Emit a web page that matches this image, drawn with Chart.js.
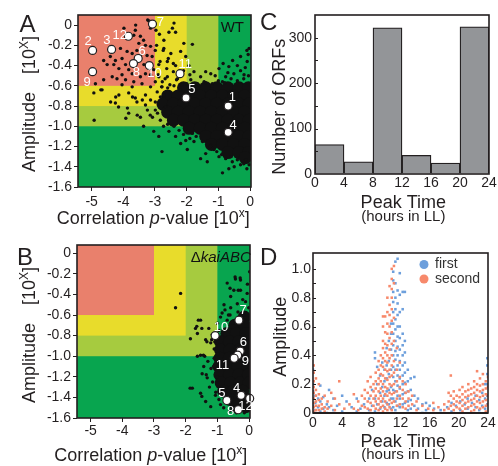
<!DOCTYPE html>
<html>
<head>
<meta charset="utf-8">
<script src="https://cdn.jsdelivr.net/npm/chart.js@4.4.1/dist/chart.umd.min.js"></script>
<style>
  html, body { margin: 0; padding: 0; background: #fff; }
  #fig { position: relative; width: 498px; height: 466px; overflow: hidden; }
  #fig canvas { position: absolute; left: 0; top: 0; width: 498px; height: 466px; }
</style>
</head>
<body>
<div id="fig">
  <canvas id="panelA" width="498" height="466"></canvas>
  <canvas id="panelB" width="498" height="466"></canvas>
  <canvas id="panelC" width="498" height="466"></canvas>
  <canvas id="panelD" width="498" height="466"></canvas>
</div>
<script>
// ---- data ----
const pTicks = [-5, -4, -3, -2, -1, 0];
const ampTicks = [0, -0.2, -0.4, -0.6, -0.8, -1.0, -1.2, -1.4, -1.6];
// colour zones: p-value below pCut and amplitude above ampCut
const zonePCut = [-1, -2, -3];
const zoneAmpCut = [-1.0, -0.8, -0.6];

const wtGenes = [
  [-3.23,0.05],[-3.14,-0.03],[-2.97,-0.05],[-3.62,-0.05],[-3.67,-0.10],[-3.46,-0.11],[-3.36,-0.15],[-3.51,-0.18],
  [-3.30,-0.20],[-3.14,-0.21],[-2.99,-0.25],[-3.57,-0.25],[-3.72,-0.28],[-3.46,-0.30],[-3.25,-0.30],[-3.09,-0.31],
  [-3.88,-0.26],[-4.09,-0.23],[-4.04,-0.33],[-4.25,-0.35],[-4.41,-0.31],[-4.62,-0.35],[-4.51,-0.39],[-4.30,-0.39],
  [-4.14,-0.43],[-3.93,-0.39],[-3.83,-0.44],[-3.72,-0.48],[-4.04,-0.49],[-4.20,-0.53],[-4.35,-0.51],[-3.93,-0.54],
  [-3.67,-0.56],[-3.46,-0.51],[-3.30,-0.48],[-3.14,-0.49],[-3.04,-0.44],[-2.88,-0.39],[-3.35,-0.39],[-3.41,-0.58],
  [-3.14,-0.61],[-2.99,-0.56],[-2.88,-0.51],[-4.62,-0.54],[-4.88,-0.58],[-4.67,-0.64],[-4.04,-0.59],[-3.72,-0.61],
  [-4.93,-0.67],[-4.14,-0.69],[-3.83,-0.67],[-3.62,-0.72],[-3.30,-0.69],[-3.14,-0.74],[-2.93,-0.66],[-2.83,-0.71],
  [-2.78,-0.61],[-2.72,-0.69],[-2.99,-0.76],
  [-3.98,-0.03],[-3.61,0.00],[-3.19,0.04],[-2.40,0.02],[-2.56,-0.07],[-2.72,-0.15],[-2.09,-0.18],
  [-2.45,-0.03],[-2.35,-0.07],[-1.82,-0.19],[-2.72,-0.23],[-2.50,-0.28],[-2.19,-0.26],[-2.03,-0.31],[-2.61,-0.36],
  [-2.35,-0.40],[-1.93,-0.40],[-1.77,-0.46],[-1.56,-0.51],[-1.24,-0.48],[-0.98,-0.43],[-0.67,-0.41],[-0.40,-0.40],
  [-0.30,-0.31],[-0.03,-0.23],[-0.09,-0.36],[-0.51,-0.48],[-0.19,-0.49],[-0.77,-0.51],[-0.87,-0.56],[-1.19,-0.58],
  [-1.45,-0.56],[-1.66,-0.58],[-1.87,-0.54],[-2.29,-0.53],[-2.61,-0.51],[-2.77,-0.56],[-0.10,-0.25],[-0.06,-0.29],
  [-2.86,-0.09],[-2.95,-0.20],[-2.74,-0.25],[-2.58,-0.33],[-2.42,-0.38],[-2.84,-0.36],[-2.63,-0.43],[-2.42,-0.46],
  [-2.90,-0.49],[-2.68,-0.53],[-2.32,-0.54],[-2.53,-0.59],[-2.79,-0.61],[-2.16,-0.59],
  [-4.92,-0.94],[-4.24,-0.71],[-4.40,-0.76],[-3.87,-0.82],[-3.71,-0.71],[-3.40,-0.74],[-3.24,-0.84],[-3.08,-0.91],
  [-2.92,-0.87],[-3.56,-0.89],[-3.92,-0.92],[-4.71,-0.64],[-4.25,-0.77],[-4.15,-0.81],[-3.83,-0.87],[-3.57,-0.76],
  [-3.46,-0.91],[-3.30,-0.79],[-3.15,-0.89],[-3.36,-1.00],[-3.04,-1.05],[-2.88,-1.10],[-2.78,-1.25],[-2.99,-0.84],
  [-2.83,-0.94],[-2.73,-1.00],[-2.67,-0.81],
  [-2.56,-1.05],[-2.35,-1.10],[-2.19,-1.17],[-1.98,-1.23],[-2.03,-1.14],[-1.77,-1.15],[-1.56,-1.32],[-1.35,-1.35],
  [-1.40,-1.27],[-1.14,-1.23],[-1.24,-1.19],[-0.87,-1.46],[-0.67,-1.42],[-0.56,-1.35],[-0.30,-1.38],[-0.14,-1.33],
  [-0.03,-1.38],[-0.98,-1.30],[-0.77,-1.32],[-2.24,-1.04],[-1.82,-1.07],
  [-2.60,-0.62],[-2.40,-0.60],[-2.20,-0.64],[-2.00,-0.58],[-1.80,-0.62],[-1.60,-0.60],[-1.40,-0.57],[-1.20,-0.60],
  [-1.00,-0.55],[-0.80,-0.57],[-0.60,-0.53],[-0.40,-0.55],[-0.20,-0.53],[-0.05,-0.50],[-0.30,-0.45],[-0.70,-0.47],
  [-1.10,-0.50],[-1.40,-0.46],[-1.90,-0.49],[-2.10,-0.45],[-0.15,-0.42],[-0.55,-0.35],[-0.85,-0.38],
  [-2.40,-1.00],[-2.10,-1.08],[-1.70,-1.10],[-1.50,-1.15],[-1.25,-1.20],[-1.05,-1.25],[-0.90,-1.28],[-0.60,-1.30],
  [-0.40,-1.33],[-0.20,-1.37],[-0.50,-1.40],[-0.10,-1.42],[-1.90,-1.12],[-2.60,-0.98]
];
// the solid black core of the WT cloud
const wtDense = [
  [-2.10,-0.62],[-1.75,-0.62],[-1.40,-0.62],[-1.05,-0.62],[-0.70,-0.62],[-0.35,-0.62],[-0.05,-0.62],
  [-2.60,-0.70],[-2.27,-0.70],[-1.92,-0.70],[-1.57,-0.70],[-1.22,-0.70],[-0.87,-0.70],[-0.52,-0.70],[-0.17,-0.70],
  [-2.75,-0.78],[-2.42,-0.78],[-2.10,-0.78],[-1.75,-0.78],[-1.40,-0.78],[-1.05,-0.78],[-0.70,-0.78],[-0.35,-0.78],[-0.03,-0.78],
  [-2.60,-0.86],[-2.27,-0.86],[-1.92,-0.86],[-1.57,-0.86],[-1.22,-0.86],[-0.87,-0.86],[-0.52,-0.86],[-0.17,-0.86],
  [-2.42,-0.94],[-2.10,-0.94],[-1.75,-0.94],[-1.40,-0.94],[-1.05,-0.94],[-0.70,-0.94],[-0.35,-0.94],[-0.03,-0.94],
  [-1.92,-1.02],[-1.57,-1.02],[-1.22,-1.02],[-0.87,-1.02],[-0.52,-1.02],[-0.17,-1.02],
  [-1.40,-1.10],[-1.05,-1.10],[-0.70,-1.10],[-0.35,-1.10],[-0.03,-1.10],
  [-1.22,-1.18],[-0.87,-1.18],[-0.52,-1.18],[-0.17,-1.18],
  [-0.70,-1.26],[-0.35,-1.26],[-0.05,-1.26],[-0.15,-1.31]
];
const wtMarkerIds = ['7', '12', '2', '3', '6', '8', '10', '9', '11', '5', '1', '4'];
const wtMarkers = [
  [-3.08,0.01],[-3.84,-0.11],[-4.97,-0.25],[-4.37,-0.24],[-3.53,-0.33],[-3.68,-0.38],
  [-3.18,-0.40],[-4.97,-0.46],[-2.21,-0.48],[-2.02,-0.72],[-0.69,-0.80],[-0.69,-1.06]
];

const kaiGenes = [
  [-2.16,-0.39],[-2.32,-0.53],[-1.85,-0.83],[-1.69,-0.73],[-1.53,-0.65],[-1.63,-0.78],[-1.27,-0.73],[-1.16,-0.79],
  [-1.37,-0.84],[-1.21,-0.87],[-1.53,-0.99],[-1.63,-1.00],[-1.43,-1.10],[-1.48,-1.17],[-1.32,-1.21],[-1.79,-1.31],
  [-1.53,-1.36],[-1.37,-1.44],[-1.21,-1.49],[-1.06,-1.38],[-0.90,-1.47],
  [-0.69,-0.29],[-0.43,-0.25],[-0.27,-0.26],[-0.48,-0.36],[-0.27,-0.36],[-0.06,-0.39],[-0.58,-0.42],[-0.79,-0.50],
  [-0.58,-0.53],[-0.37,-0.49],[-0.11,-0.47],[-0.01,-0.53],[-0.90,-0.62],[-0.69,-0.65],
  [-1.30,-1.05],[-1.20,-1.12],[-1.35,-1.18],[-1.15,-1.25],[-1.25,-1.30],[-1.10,-1.02],[-1.05,-1.35],[-1.40,-1.00],
  [-1.10,-0.93],[-1.00,-0.68],[-0.85,-0.58],[-0.60,-0.60],[-0.35,-0.57],[-0.15,-0.60],[-0.05,-0.30],[-0.20,-0.45],
  [-0.50,-0.68],[-0.95,-1.42],[-0.80,-1.50],[-0.60,-1.53],[-0.40,-1.55],[-0.15,-1.55],[-1.00,-1.20],[-1.12,-1.10],
  [-0.98,-0.98],[-1.08,-0.86],[-0.95,-0.75],[-0.44,-0.23],[-0.28,-0.24],[-0.60,-0.34],[-0.34,-0.36],[0.02,-0.18],
  [-0.76,-0.55],[-0.65,-0.60],[-1.60,-0.65],[-1.65,-0.71],[-1.49,-0.73],[-1.18,-0.84],[-1.33,-0.86],[-1.44,-0.99],
  [-1.86,-1.31],[-1.49,-1.39]
];
const kaiDense = [
  [-0.15,-0.62],
  [-0.45,-0.70],[-0.15,-0.70],
  [-0.70,-0.78],[-0.40,-0.78],[-0.10,-0.78],
  [-0.90,-0.86],[-0.62,-0.86],[-0.32,-0.86],[-0.02,-0.86],
  [-0.90,-0.94],[-0.60,-0.94],[-0.30,-0.94],[0.00,-0.94],
  [-0.92,-1.02],[-0.62,-1.02],[-0.32,-1.02],[-0.02,-1.02],
  [-0.95,-1.10],[-0.65,-1.10],[-0.35,-1.10],[-0.05,-1.10],
  [-0.92,-1.18],[-0.62,-1.18],[-0.32,-1.18],[-0.02,-1.18],
  [-0.88,-1.26],[-0.58,-1.26],[-0.28,-1.26],[0.00,-1.26],
  [-0.80,-1.34],[-0.50,-1.34],[-0.20,-1.34],
  [-0.60,-1.42],[-0.30,-1.42],[0.00,-1.42],
  [-0.40,-1.49],[-0.10,-1.49]
];
const kaiMarkerIds = ['7', '10', '6', '9', '11', '4', '12', '5', '8'];
const kaiMarkers = [
  [-0.32,-0.65],[-1.07,-0.80],[-0.28,-0.95],[-0.36,-0.99],[-0.47,-1.02],
  [-0.25,-1.38],[0.02,-1.41],[-0.70,-1.43],[-0.34,-1.52]
];

const peakTicks = [0, 4, 8, 12, 16, 20, 24];
const binCentres = [2, 6, 10, 14, 18, 22];
const orfCounts = [65, 27, 322, 41, 24, 324];
const countTicks = [0, 100, 200, 300];
const countMinorTicks = [50, 100, 150, 200, 250, 300];

const ampDTicks = [0, 0.2, 0.4, 0.6, 0.8, 1.0];
const ampDMinorTicks = [0.1, 0.2, 0.3, 0.4, 0.5, 0.6, 0.7, 0.8, 0.9, 1.0];
// [peak time, amplitudes in that column]
const secondCols = [
  [0.1,[0.33,0.28,0.22,0.18,0.14,0.10,0.07,0.04,0.01]],[0.4,[0.24,0.16,0.12,0.08,0.05,0.02]],
  [0.8,[0.20,0.13,0.09,0.05,0.02]],[1.2,[0.10,0.06,0.03]],[1.6,[0.12,0.04,0.01]],[2.0,[0.08,0.03]],
  [2.5,[0.14,0.05]],[3.0,[0.10,0.02]],[3.6,[0.22,0.06]],[4.3,[0.03]],[5.0,[0.06]],[5.6,[0.13,0.03]],
  [6.2,[0.08,0.02]],[6.7,[0.12,0.05]],[7.1,[0.16,0.10,0.04]],[7.5,[0.22,0.14,0.08,0.03]],
  [7.9,[0.25,0.18,0.12,0.07,0.02]],[8.3,[0.20,0.15,0.10,0.05]],[8.6,[0.28,0.22,0.17,0.12,0.08,0.03]],
  [9.0,[0.36,0.30,0.24,0.20,0.15,0.10,0.06,0.02]],[9.3,[0.40,0.33,0.27,0.22,0.17,0.12,0.08,0.04]],
  [9.6,[0.67,0.60,0.50,0.45,0.38,0.32,0.26,0.20,0.15,0.10,0.05,0.01]],
  [9.9,[0.67,0.56,0.48,0.42,0.36,0.30,0.24,0.18,0.13,0.08,0.03]],
  [10.2,[0.80,0.70,0.62,0.55,0.47,0.40,0.35,0.29,0.23,0.17,0.12,0.06,0.02]],
  [10.5,[0.88,0.75,0.68,0.60,0.52,0.44,0.38,0.30,0.25,0.20,0.14,0.09,0.04]],
  [10.8,[1.00,0.93,0.86,0.80,0.72,0.64,0.56,0.48,0.40,0.33,0.26,0.19,0.13,0.07,0.02]],
  [11.1,[1.02,0.90,0.66,0.50,0.36,0.28,0.20,0.14,0.08]],[11.5,[0.45,0.30,0.22,0.15,0.10,0.05]],
  [11.9,[0.35,0.25,0.18,0.12,0.06]],[12.3,[0.22,0.16,0.10,0.04]],[12.7,[0.20,0.14,0.08,0.03]],
  [13.1,[0.15,0.10,0.05]],[13.6,[0.12,0.06]],[14.2,[0.08,0.02]],[15.0,[0.05]],[15.8,[0.03]],
  [16.5,[0.07,0.02]],[17.2,[0.04]],[18.0,[0.06,0.02]],[18.6,[0.14,0.08,0.03]],[18.9,[0.26,0.12,0.05]],
  [19.3,[0.15,0.10,0.06,0.02]],[19.7,[0.12,0.08,0.04]],[20.1,[0.16,0.11,0.07,0.03]],
  [20.5,[0.18,0.13,0.09,0.05,0.01]],[20.9,[0.15,0.11,0.07,0.03]],[21.3,[0.20,0.16,0.12,0.08,0.04]],
  [21.7,[0.17,0.13,0.09,0.05,0.01]],[22.1,[0.22,0.18,0.14,0.10,0.06,0.02]],[22.5,[0.29,0.20,0.16,0.12,0.08,0.04]],
  [22.9,[0.24,0.19,0.15,0.11,0.07,0.03]],[23.3,[0.27,0.20,0.16,0.12,0.08,0.04]],
  [23.7,[0.22,0.17,0.13,0.09,0.05,0.01]],[24.0,[0.25,0.18,0.12,0.06]]
];
const firstCols = [
  [0.0,[0.30,0.20,0.15,0.10,0.05,0.00]],[0.3,[0.12,0.07,0.02]],[0.7,[0.10,0.04]],[1.0,[0.19,0.08,0.01]],
  [1.4,[0.11,0.03]],[1.9,[0.06,0.00]],[2.2,[0.16,0.04]],[2.8,[0.10,0.02]],[3.3,[0.05]],[4.0,[0.12,0.01]],
  [4.6,[0.08]],[5.3,[0.04]],[6.0,[0.10,0.01]],[6.5,[0.03]],[7.0,[0.06]],[7.7,[0.10,0.02]],[8.1,[0.16,0.05]],
  [8.5,[0.42,0.38,0.10,0.01]],[8.8,[0.32,0.20,0.06]],[9.2,[0.26,0.14,0.03]],[9.5,[0.35,0.18,0.08]],
  [9.8,[0.30,0.22,0.12,0.04]],[10.1,[0.45,0.33,0.24,0.15,0.07]],[10.4,[0.50,0.36,0.27,0.16,0.06]],
  [10.7,[0.62,0.55,0.44,0.30,0.18,0.10,0.03]],
  [11.0,[0.98,0.92,0.84,0.77,0.70,0.62,0.55,0.47,0.40,0.32,0.25,0.16,0.10,0.04]],
  [11.3,[1.05,0.90,0.80,0.72,0.65,0.58,0.50,0.43,0.37,0.30,0.22,0.15,0.08,0.02]],
  [11.6,[1.07,0.85,0.76,0.68,0.60,0.53,0.46,0.40,0.33,0.26,0.19,0.12,0.05]],
  [11.9,[0.97,0.82,0.70,0.60,0.52,0.44,0.36,0.30,0.24,0.17,0.10,0.04]],
  [12.3,[0.84,0.72,0.55,0.47,0.40,0.33,0.26,0.20,0.13,0.06]],
  [12.6,[0.84,0.50,0.42,0.35,0.28,0.21,0.14,0.07]],[13.0,[0.30,0.22,0.15,0.08,0.02]],
  [13.4,[0.24,0.16,0.09,0.03]],[13.9,[0.25,0.12,0.05]],[14.4,[0.10,0.03]],[15.0,[0.06,0.00]],
  [15.5,[0.07,0.02]],[16.0,[0.05]],[16.6,[0.03]],[17.5,[0.02]],[18.4,[0.04]],[19.0,[0.07,0.01]],
  [19.6,[0.05]],[20.2,[0.08,0.02]],[20.8,[0.06]],[21.2,[0.10,0.03]],[21.8,[0.07]],[22.3,[0.12,0.04]],
  [22.8,[0.09,0.02]],[23.2,[0.14,0.05]],[23.6,[0.20,0.10,0.03]],[23.9,[0.38,0.33,0.27,0.20,0.12,0.06]]
];

// ---- look ----
const ink = '#231f20';
const dotInk = '#111111';
const FONT = '"Liberation Sans", Arial, Helvetica, sans-serif';
const zoneColours = ['#08a54f', '#a6cb3f', '#e8dc2b', '#e9806c'];
const blue = '#6d9fdc';
const salmon = '#f7896b';

// label nudges (px) for the numbered white markers
const wtLabelShift = [[8,-2],[-8.7,-1.2],[-4.4,-9.2],[-4.7,-8.5],[3.9,-7.5],[3,8.5],[5.2,7.5],[-5.4,10.8],[5.3,-9.1],[5.7,-8.2],[4.2,-9],[5,-7.2]];
const kaiLabelShift = [[4.3,-10],[5.8,-7.7],[3.3,-8.5],[7.7,5.8],[-11.6,7.4],[-4.4,-7],[-4.3,8],[-5,-6.7],[-7.6,1.8]];

Chart.defaults.font.family = FONT;
Chart.defaults.color = ink;

const f = (size, italic) => (italic ? 'italic ' : '') + size + 'px ' + FONT;
const toXY = pts => pts.map(([x, y]) => ({ x, y }));
const fromCols = cols => cols.flatMap(([t, amps]) => amps.map(a => ({ x: t, y: a })));
const decimal = v => (v === 0 ? '0' : v.toFixed(1));

function richText(ctx, parts, x, y, align, rotate) {
  ctx.save();
  ctx.translate(x, y);
  if (rotate) ctx.rotate(-Math.PI / 2);
  let total = 0;
  parts.forEach(p => {
    if (p.text) { ctx.font = p.font; p.w = ctx.measureText(p.text).width; } else p.w = p.gap;
    total += p.w;
  });
  let cx = align === 'center' ? -total / 2 : 0;
  ctx.textAlign = 'left';
  ctx.textBaseline = 'alphabetic';
  parts.forEach(p => {
    if (p.text) {
      ctx.font = p.font;
      ctx.fillStyle = p.color || ink;
      ctx.fillText(p.text, cx, p.dy || 0);
    }
    cx += p.w;
  });
  ctx.restore();
}

const letter = (ctx, txt, x, y) => richText(ctx, [{ text: txt, font: f(24) }], x, y, 'left');

const pTitle = [
  { text: 'Correlation ', font: f(18) }, { text: 'p', font: f(18, true) },
  { text: '-value [10', font: f(18) }, { text: 'x', font: f(12), dy: -7 }, { text: ']', font: f(18) }
];
const ampTitle = [
  { text: 'Amplitude', font: f(18) }, { gap: 18 },
  { text: '[10', font: f(18) }, { text: 'X', font: f(12), dy: -7 }, { text: ']', font: f(18) }
];

function drawFrame(chart, lw) {
  const { ctx, chartArea: a } = chart;
  ctx.save();
  ctx.strokeStyle = ink;
  ctx.lineWidth = lw;
  ctx.strokeRect(a.left, a.top, a.right - a.left, a.bottom - a.top);
  ctx.restore();
}

function insideTicks(chart, values, len) {
  const { ctx, chartArea: a, scales: { y } } = chart;
  ctx.save();
  ctx.strokeStyle = ink;
  ctx.lineWidth = 1;
  ctx.beginPath();
  values.forEach(v => {
    const py = Math.round(y.getPixelForValue(v)) + 0.5;
    ctx.moveTo(a.left, py);
    ctx.lineTo(a.left + len, py);
  });
  ctx.stroke();
  ctx.restore();
}

function markerLabels(chart, ids, pts, shifts) {
  const { ctx, scales: { x, y } } = chart;
  ctx.save();
  ctx.font = f(13);
  ctx.fillStyle = '#fff';
  ctx.textAlign = 'center';
  ctx.textBaseline = 'middle';
  ids.forEach((id, i) => {
    ctx.fillText(id, x.getPixelForValue(pts[i][0]) + shifts[i][0], y.getPixelForValue(pts[i][1]) + shifts[i][1]);
  });
  ctx.restore();
}

const zonePlugin = {
  id: 'zones',
  beforeDatasetsDraw(chart) {
    const { ctx, chartArea: a, scales: { x, y } } = chart;
    ctx.save();
    ctx.fillStyle = zoneColours[0];
    ctx.fillRect(a.left, a.top, a.right - a.left, a.bottom - a.top);
    zonePCut.forEach((p, i) => {
      ctx.fillStyle = zoneColours[i + 1];
      ctx.fillRect(a.left, a.top, x.getPixelForValue(p) - a.left, y.getPixelForValue(zoneAmpCut[i]) - a.top);
    });
    ctx.restore();
  }
};

function axis(o) {
  return {
    type: 'linear',
    min: o.min,
    max: o.max,
    offset: false,
    afterBuildTicks: s => { s.ticks = o.ticks.map(v => ({ value: v })); },
    afterFit: s => { if (s.isHorizontal()) s.height = o.size; else s.width = o.size; },
    ticks: { font: { size: 14 }, color: ink, padding: o.pad, autoSkip: false, maxRotation: 0, callback: o.fmt || (v => String(v)) },
    grid: { drawOnChartArea: false, drawTicks: !!o.tick, tickLength: o.tick || 0, color: ink, tickColor: ink, lineWidth: 1 },
    border: { display: false }
  };
}

function options(pad, x, y) {
  return {
    responsive: false,
    animation: false,
    devicePixelRatio: 1,
    events: [],
    layout: { padding: pad },
    plugins: { legend: { display: false }, tooltip: { enabled: false } },
    scales: { x, y }
  };
}

function scatterSets(markers, genes, dense) {
  return [
    { data: toXY(markers), pointRadius: 4, backgroundColor: '#fff', borderColor: ink, borderWidth: 1.2, clip: false },
    { data: toXY(genes), pointRadius: 1.7, backgroundColor: dotInk, borderWidth: 0, clip: 0 },
    { data: toXY(dense), pointRadius: 6.5, backgroundColor: dotInk, borderWidth: 0, clip: 0 }
  ];
}

// A: wild type
new Chart(document.getElementById('panelA'), {
  type: 'scatter',
  data: { datasets: scatterSets(wtMarkers, wtGenes, wtDense) },
  options: options({ left: 0, top: 15, right: 247, bottom: 249 },
    axis({ min: -5.43, max: 0.03, ticks: pTicks, size: 30, pad: 3, tick: 4 }),
    axis({ min: -1.6, max: 0.1, ticks: ampTicks, size: 78, pad: 2, tick: 4, fmt: decimal })),
  plugins: [zonePlugin, {
    id: 'decoA',
    afterDraw(chart) {
      const ctx = chart.ctx;
      drawFrame(chart, 1.6);
      markerLabels(chart, wtMarkerIds, wtMarkers, wtLabelShift);
      letter(ctx, 'A', 19.5, 31.7);
      richText(ctx, [{ text: 'WT', font: f(15), color: '#111' }], 220.7, 32.3, 'left');
      richText(ctx, pTitle, 153.3, 224.3, 'center');
      richText(ctx, ampTitle, 35, 104, 'center', true);
    }
  }]
});

// B: kaiABC deletion
new Chart(document.getElementById('panelB'), {
  type: 'scatter',
  data: { datasets: scatterSets(kaiMarkers, kaiGenes, kaiDense) },
  options: options({ left: 0, top: 245, right: 248, bottom: 18 },
    axis({ min: -5.43, max: 0.03, ticks: pTicks, size: 30, pad: 1, tick: 4 }),
    axis({ min: -1.6, max: 0.08, ticks: ampTicks, size: 77, pad: 2, tick: 4, fmt: decimal })),
  plugins: [zonePlugin, {
    id: 'decoB',
    afterDraw(chart) {
      const ctx = chart.ctx;
      drawFrame(chart, 1.6);
      markerLabels(chart, kaiMarkerIds, kaiMarkers, kaiLabelShift);
      letter(ctx, 'B', 17, 265);
      richText(ctx, [{ text: '\u0394', font: f(15), color: '#111' }, { text: 'kaiABC', font: f(15, true), color: '#111' }], 190.7, 262.3, 'left');
      richText(ctx, pTitle, 150.8, 460.7, 'center');
      richText(ctx, ampTitle, 35, 335, 'center', true);
    }
  }]
});

// C: histogram of peak times
new Chart(document.getElementById('panelC'), {
  type: 'bar',
  data: {
    datasets: [{
      data: binCentres.map((t, i) => ({ x: t, y: orfCounts[i] })),
      backgroundColor: '#939598',
      borderColor: ink,
      borderWidth: 1.3,
      barPercentage: 1,
      categoryPercentage: 1
    }]
  },
  options: options({ left: 258, top: 15, right: 9, bottom: 262 },
    axis({ min: 0, max: 24, ticks: peakTicks, size: 30, pad: 1 }),
    axis({ min: 0, max: 350, ticks: countTicks, size: 57, pad: 3 })),
  plugins: [{
    id: 'decoC',
    afterDraw(chart) {
      const ctx = chart.ctx;
      drawFrame(chart, 1.6);
      insideTicks(chart, countMinorTicks, 3);
      letter(ctx, 'C', 260, 30);
      richText(ctx, [{ text: 'Peak Time', font: f(18) }], 403.3, 208.3, 'center');
      richText(ctx, [{ text: '(hours in LL)', font: f(15) }], 403.3, 221, 'center');
      richText(ctx, [{ text: 'Number of ORFs', font: f(18) }], 285, 106.7, 'center', true);
    }
  }]
});

// D: amplitude against peak time for the two peaks
new Chart(document.getElementById('panelD'), {
  type: 'scatter',
  data: {
    datasets: [
      { label: 'second', data: fromCols(secondCols), pointStyle: 'rect', pointRadius: 1.8, backgroundColor: salmon, borderWidth: 0 },
      { label: 'first', data: fromCols(firstCols), pointStyle: 'rect', pointRadius: 1.8, backgroundColor: blue, borderWidth: 0 }
    ]
  },
  options: options({ left: 258, top: 253, right: 10, bottom: 23 },
    axis({ min: 0, max: 24, ticks: peakTicks, size: 30, pad: 2 }),
    axis({ min: 0, max: 1.11, ticks: ampDTicks, size: 55, pad: 2, fmt: decimal })),
  plugins: [{
    id: 'decoD',
    afterDraw(chart) {
      const ctx = chart.ctx;
      const a = chart.chartArea;
      drawFrame(chart, 1.6);
      ctx.save();
      ctx.strokeStyle = ink;
      ctx.lineWidth = 2.2;
      ctx.beginPath();
      ctx.moveTo(a.left, a.bottom);
      ctx.lineTo(a.right, a.bottom);
      ctx.stroke();
      ctx.restore();
      insideTicks(chart, ampDMinorTicks, 3);
      letter(ctx, 'D', 260, 265);
      // legend
      [['first', blue, 264.5], ['second', salmon, 279]].forEach(([name, col, yy]) => {
        ctx.save();
        ctx.fillStyle = col;
        ctx.beginPath();
        ctx.arc(424, yy, 4.5, 0, Math.PI * 2);
        ctx.fill();
        ctx.fillStyle = '#333';
        ctx.font = f(14);
        ctx.textBaseline = 'middle';
        ctx.fillText(name, 435, yy);
        ctx.restore();
      });
      richText(ctx, [{ text: 'Peak Time', font: f(18) }], 403.3, 446.7, 'center');
      richText(ctx, [{ text: '(hours in LL)', font: f(15) }], 403.3, 459.3, 'center');
      richText(ctx, [{ text: 'Amplitude', font: f(18) }], 286, 336.7, 'center', true);
    }
  }]
});
</script>
</body>
</html>
